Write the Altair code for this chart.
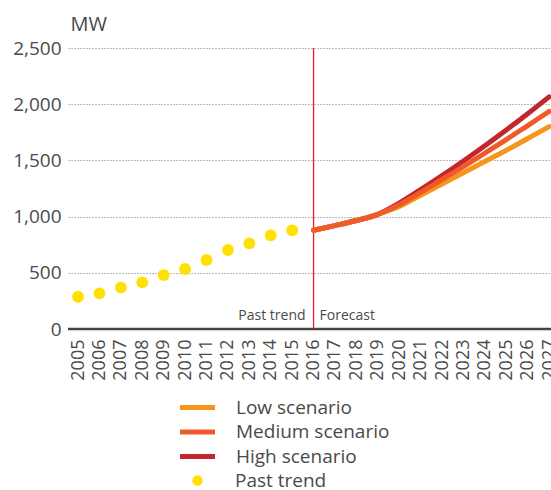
import altair as alt
import pandas as pd

past_years = list(range(2005, 2016))
past_values = [287, 317, 368, 415, 480, 534, 614, 703, 762, 833, 878]

fc_years = list(range(2016, 2028))
low_values = [878, 920, 965, 1020, 1090, 1190, 1290, 1390, 1490, 1590, 1695, 1800]
medium_values = [878, 920, 965, 1020, 1105, 1215, 1330, 1445, 1565, 1685, 1810, 1935]
high_values = [878, 920, 965, 1020, 1120, 1240, 1365, 1495, 1630, 1770, 1915, 2065]

series_names = ["Low scenario", "Medium scenario", "High scenario"]
series_colors = ["#F7941D", "#EF5A28", "#C1272D"]

all_years = list(range(2005, 2028))
y_ticks = [0, 500, 1000, 1500, 2000, 2500]

FONT = "Open Sans"
TXT = "#4a4a4a"

past_df = pd.DataFrame({"year": past_years, "value": past_values, "series": "Past trend"})
rows = []
for name, vals in zip(series_names, [low_values, medium_values, high_values]):
    for yv, v in zip(fc_years, vals):
        rows.append({"year": yv, "value": v, "series": name})
fc_df = pd.DataFrame(rows)

xscale = alt.Scale(domain=[2004.53, 2027.09], nice=False, zero=False)
yscale = alt.Scale(domain=[0, 2500], nice=False)

x_axis = alt.Axis(values=all_years, format="d", labelAngle=270, labelAlign="right",
                  labelBaseline="middle", labelFontSize=18, labelColor=TXT, labelFont=FONT,
                  labelPadding=10, ticks=False, domain=False, grid=False, title=None,
                  labelFlush=False, labelOverlap=False, labelBound=False)
y_axis = alt.Axis(values=y_ticks, format=",d", labelFontSize=19, labelColor=TXT,
                  labelFont=FONT, labelPadding=7, ticks=False, domain=False,
                  grid=True, gridColor="#777777", gridDash=[1, 2], gridWidth=1,
                  title="MW", titleAngle=0, titleAlign="left", titleBaseline="alphabetic",
                  titleX=2, titleY=-18, titleFontSize=20, titleFont=FONT,
                  titleColor=TXT, titleFontWeight="normal")

def X(field="year"):
    return alt.X(f"{field}:Q", scale=xscale, axis=x_axis)

def Y(field="value"):
    return alt.Y(f"{field}:Q", scale=yscale, axis=y_axis)

color_scale = alt.Scale(domain=series_names, range=series_colors)
line_legend = alt.Legend(title=None, orient="none", legendX=117, legendY=347,
                         symbolType="M-1.75,0H1.75", symbolSize=400, symbolStrokeWidth=5,
                         labelFontSize=19, labelFont=FONT, labelColor=TXT, labelOffset=26,
                         rowPadding=1.5, padding=0)

base_line = alt.Chart(fc_df).mark_line(strokeWidth=5, strokeCap="round", strokeJoin="round",
                                       interpolate="monotone")

def line_layer(name, show_legend):
    return base_line.transform_filter(alt.datum.series == name).encode(
        x=X(), y=Y(),
        color=alt.Color("series:N", scale=color_scale, legend=line_legend if show_legend else None),
    )

high_l = line_layer("High scenario", True)
low_l = line_layer("Low scenario", False)
med_l = line_layer("Medium scenario", False)

points = alt.Chart(past_df).mark_point(filled=True, size=140, opacity=1, shape="circle").encode(
    x=X(), y=Y(),
    fill=alt.Fill("series:N", scale=alt.Scale(domain=["Past trend"], range=["#FFE000"]),
                  legend=alt.Legend(title=None, orient="none", legendX=120, legendY=423,
                                    symbolType="circle", symbolSize=110, labelFontSize=19,
                                    labelFont=FONT, labelColor=TXT, labelOffset=28, padding=0,
                                    symbolStrokeWidth=0)),
)

zero_rule = alt.Chart(pd.DataFrame({"value": [0]})).mark_rule(color="#444444", strokeWidth=2.5).encode(
    y=Y())

vline = alt.Chart(pd.DataFrame({"year": [2016]})).mark_rule(color="#E0202A", strokeWidth=1.3).encode(
    x=X())

labels_df = pd.DataFrame({"year": [2016, 2016], "value": [0, 0], "t": ["Past trend", "Forecast"]})
txt_past = alt.Chart(labels_df.iloc[[0]]).mark_text(align="right", baseline="alphabetic", dx=-8, dy=-9,
                                                     fontSize=14, font=FONT, color=TXT).encode(
    x=X(), y=Y(), text="t:N")
txt_fc = alt.Chart(labels_df.iloc[[1]]).mark_text(align="left", baseline="alphabetic", dx=6, dy=-9,
                                                   fontSize=14, font=FONT, color=TXT).encode(
    x=X(), y=Y(), text="t:N")

chart = alt.layer(zero_rule, vline, txt_past, txt_fc, points, high_l, low_l, med_l).properties(
    width=483, height=281,
    autosize=alt.AutoSizeParams(type="none"),
    padding={"left": 68, "top": 48, "right": 0, "bottom": 161},
).configure_view(stroke=None)

chart.save("out.html", embed_options={"renderer": "svg", "actions": False})
